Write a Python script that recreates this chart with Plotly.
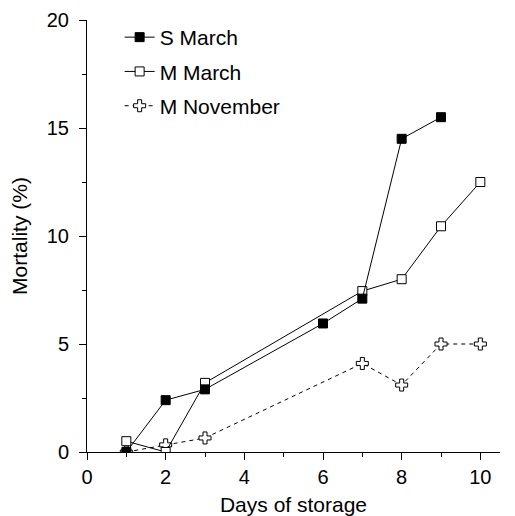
import plotly.graph_objects as go

s_march_x = [1, 2, 3, 6, 7, 8, 9]
s_march_y = [0, 2.4, 2.9, 5.95, 7.1, 14.5, 15.5]
m_march_x = [1, 2, 3, 7, 8, 9, 10]
m_march_y = [0.5, 0, 3.2, 7.45, 8.0, 10.45, 12.5]
m_nov_x = [1, 2, 3, 7, 8, 9, 10]
m_nov_y = [0, 0.33, 0.65, 4.1, 3.1, 5.0, 5.0]

font = "Liberation Sans, Arial, sans-serif"

fig = go.Figure()
fig.add_trace(go.Scatter(
    x=m_nov_x, y=m_nov_y, name="M November", mode="lines+markers",
    line=dict(color="black", width=1, dash="4px,4px"),
    marker=dict(symbol="cross", size=10, color="white", line=dict(color="black", width=1)),
    legendgroup="c", legendrank=3))
fig.add_trace(go.Scatter(
    x=m_march_x, y=m_march_y, name="M March", mode="lines+markers",
    line=dict(color="black", width=1),
    marker=dict(symbol="square", size=9, color="white", line=dict(color="black", width=1)),
    legendgroup="b", legendrank=2))
fig.add_trace(go.Scatter(
    x=s_march_x, y=s_march_y, name="S March", mode="lines+markers",
    line=dict(color="black", width=1),
    marker=dict(symbol="square", size=9, color="black", line=dict(color="black", width=1)),
    legendgroup="a", legendrank=1))

fig.update_layout(
    width=507, height=508,
    margin=dict(l=79, r=15, t=12, b=64, autoexpand=False),
    paper_bgcolor="white", plot_bgcolor="white",
    font=dict(family=font, size=20, color="black"),
    legend=dict(x=0.079, y=1.007, xanchor="left", yanchor="top",
                traceorder="grouped", tracegroupgap=4,
                font=dict(size=21), bgcolor="rgba(0,0,0,0)"),
    xaxis=dict(range=[0, 10.5], tickvals=[0, 2, 4, 6, 8, 10], showgrid=False, zeroline=False,
               showline=True, linecolor="black", linewidth=1, automargin=False,
               ticks="outside", ticklen=7, tickcolor="black",
               minor=dict(tickvals=[1, 3, 5, 7, 9], ticks="outside", ticklen=4, tickcolor="black"),
               title=dict(text="Days of storage", standoff=10, font=dict(size=21))),
    yaxis=dict(range=[0, 20], tickvals=[0, 5, 10, 15, 20], showgrid=False, zeroline=False,
               showline=True, linecolor="black", linewidth=1, automargin=False,
               ticks="outside", ticklen=7, tickcolor="black", ticklabelstandoff=6,
               minor=dict(tickvals=[2.5, 7.5, 12.5, 17.5], ticks="outside", ticklen=4, tickcolor="black"),
               title=dict(text="Mortality (%)", standoff=18, font=dict(size=21))),
)

fig.write_html("out.html")
